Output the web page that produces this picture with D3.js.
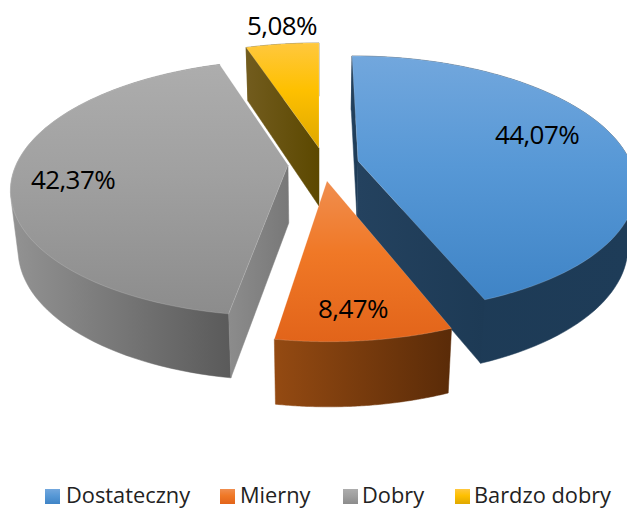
<!DOCTYPE html>
<html><head><meta charset="utf-8">
<script src="https://cdn.jsdelivr.net/npm/d3@7"></script>
<style>html,body{margin:0;padding:0;background:#fff}svg{display:block}text{font-family:"Open Sans",sans-serif;fill:#000}</style>
</head><body><svg id="c" width="627" height="508"></svg>
<script>
const categories = ["Dostateczny","Mierny","Dobry","Bardzo dobry"];
const values = [44.07,8.47,42.37,5.08];
const labels = ["44,07%","8,47%","42,37%","5,08%"];
const faceStops = [["#72a7dd","#5798d6","#3f84c6"],["#f08e4f","#f07826","#e2641a"],["#adadad","#a0a0a0","#8c8c8c"],["#ffc83e","#fec000","#dfa800"]];
const rimStops = [["#1d3a55","#1e3c58"],["#944a12","#5a2b08"],["#939393","#5a5a5a"],["#6b5410","#5b4800"]];
const cutStops = [["#24425f","#1d3a55"],["#944a12","#5a2b08"],["#8c8c8c","#787878"],["#725c1e","#5c4800"]];
// layout of the exploded pie
const apexes = [[358,161],[327,181],[288,165],[319,148]];
const apexDepth = [0,0.15,0,0];
const labelPos = [[537,134],[353,308],[73,179],[282,25]];
const legendX = [45,220,343,455];
const legendTextX = [66,240,362,474];
const R=272, Ry=124, K=0.18, VX=319, D=58, SHRINK=0.975;

const svg = d3.select("#c");
const defs = svg.append("defs");
function grad(id,stops,vertical){
  const g=defs.append("linearGradient").attr("id",id).attr("x1",0).attr("y1",0).attr("x2",vertical?0:1).attr("y2",vertical?1:0);
  const p=stops.length===3?[0,.45,1]:[0,1];
  stops.forEach((c,i)=>g.append("stop").attr("offset",p[i]).attr("stop-color",c));
}
faceStops.forEach((s,i)=>grad("f"+i,s,true));
rimStops.forEach((s,i)=>grad("r"+i,s,false));
cutStops.forEach((s,i)=>grad("w"+i,s,false));

const arcs = d3.pie().sort(null).value(d=>d).startAngle(0).endAngle(2*Math.PI)(values);
const line = d3.line().curve(d3.curveLinear);

function topPt(i,a,r){
  const [ax,ay]=apexes[i], v0=apexDepth[i], s0=1/(1-K*v0);
  const u=Math.sin(a)*r, v=-Math.cos(a)*r+v0, s=1/(1-K*v);
  const wx=VX+(ax-VX)/s0;
  return [VX+(wx+R*u-VX)*s, ay+Ry*(v*s-v0*s0), s];
}
function botPt(i,a,r){
  const [x,y,s]=topPt(i,a,r);
  return [VX+(x-VX)*SHRINK, y+D*Math.sqrt(s)];
}
const order=[3,2,0,1];
order.forEach(i=>{
  const d=arcs[i], g=svg.append("g");
  const n=80, as=d3.range(n+1).map(t=>d.startAngle+(d.endAngle-d.startAngle)*t/n);
  const topArc=as.map(a=>topPt(i,a,1).slice(0,2));
  const botArc=as.map(a=>botPt(i,a,1));
  const A=topPt(i,0,0).slice(0,2), B=botPt(i,0,0);
  // outer wall: hull of both rims; what faces away ends up under the top face
  g.append("path").attr("d",line(d3.polygonHull(topArc.concat(botArc)))+"Z")
   .attr("fill",`url(#r${i})`).attr("stroke",`url(#r${i})`).attr("stroke-width",.5);
  // cut walls: only those facing the viewer
  [[topArc[0],A,B,botArc[0]],[A,topArc[n],botArc[n],B]].forEach(q=>{
    if(d3.polygonArea(q)>=0) return;
    g.append("path").attr("d",line(q)+"Z").attr("fill",`url(#w${i})`).attr("stroke",`url(#w${i})`).attr("stroke-width",.5);
  });
  g.append("path").attr("d",line([A].concat(topArc))+"Z").attr("fill",`url(#f${i})`)
   .attr("stroke","#fff").attr("stroke-opacity",.2).attr("stroke-width",.8);
});
labels.forEach((t,i)=>{
  svg.append("text").attr("x",labelPos[i][0]).attr("y",labelPos[i][1]+9.5).attr("text-anchor","middle")
    .attr("font-size",26).attr("letter-spacing",-.6).text(t);
});
categories.forEach((c,i)=>{
  svg.append("rect").attr("x",legendX[i]).attr("y",489).attr("width",15).attr("height",15).attr("fill",`url(#f${i})`);
  svg.append("text").attr("x",legendTextX[i]).attr("y",503).attr("font-size",21.8).style("fill","#222").text(c);
});
</script></body></html>
